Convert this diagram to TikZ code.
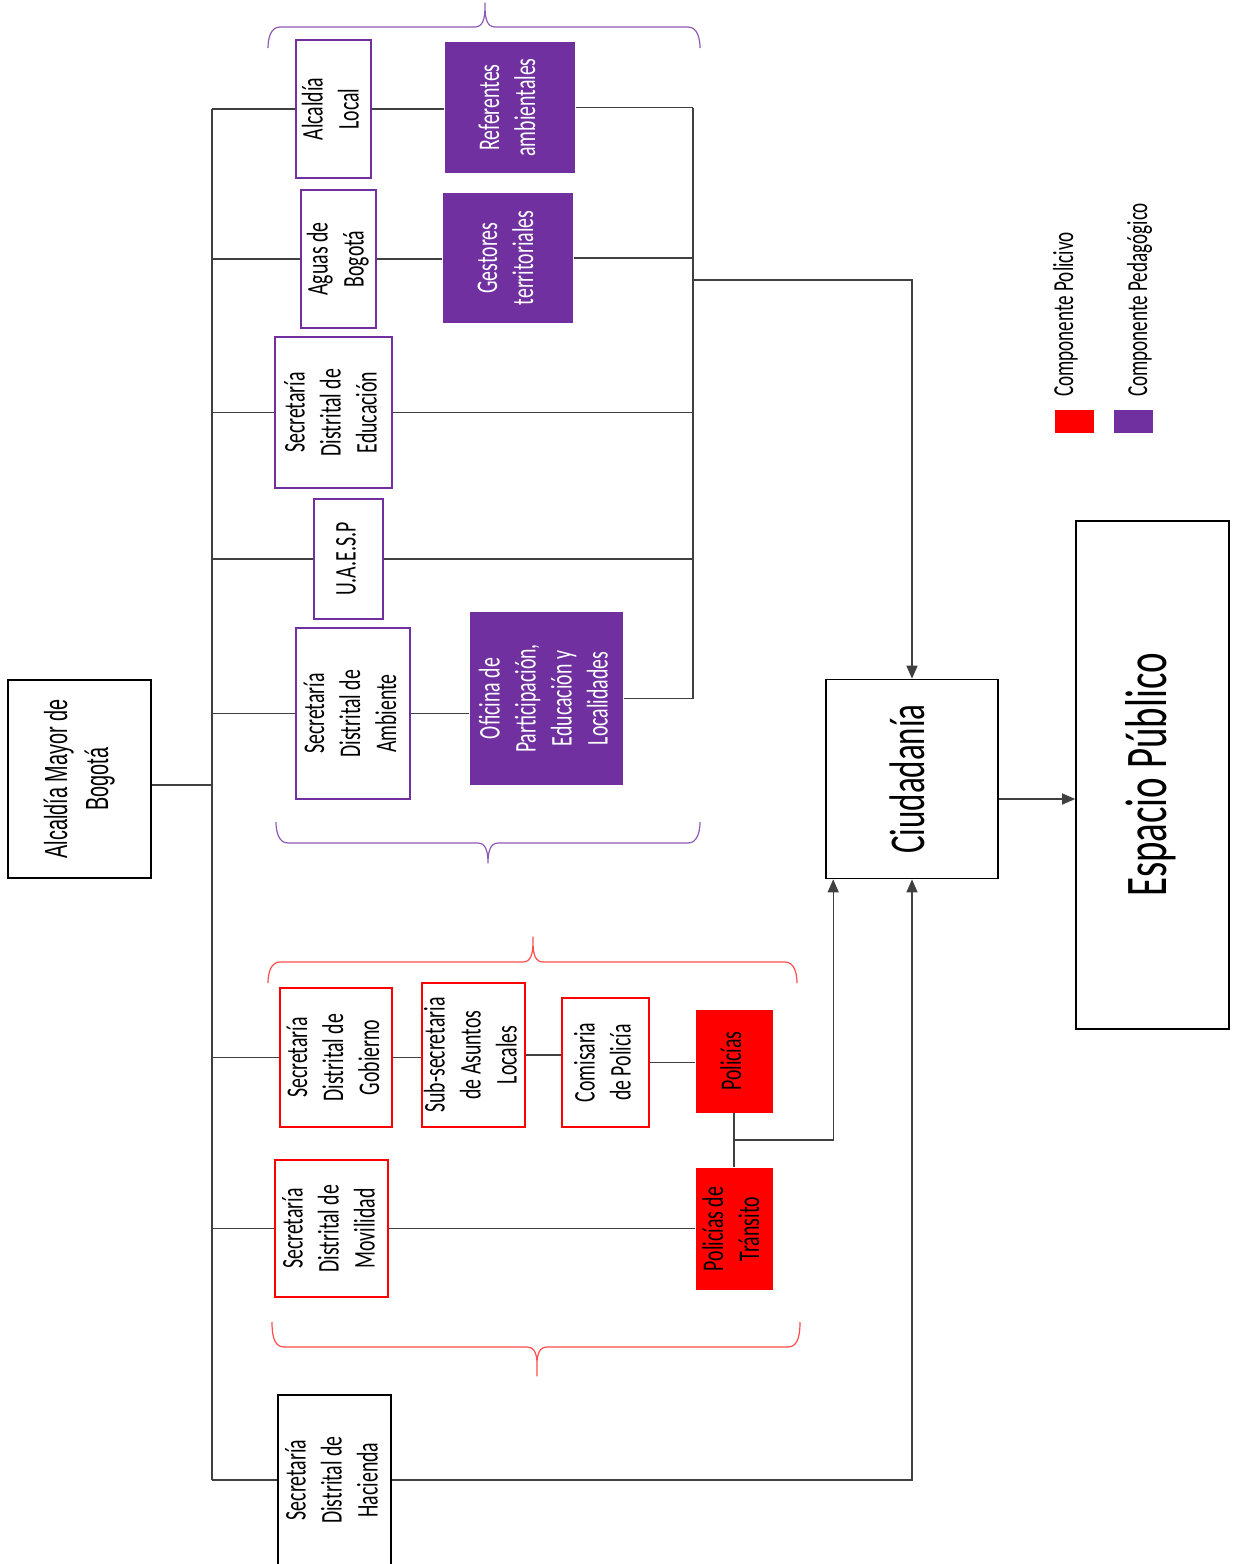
\documentclass[tikz,border=0pt]{standalone}
\usepackage{fontspec}
\usepackage{graphicx}
\usetikzlibrary{arrows.meta}

\newfontfamily\condfont[FakeStretch=0.66]{Carlito}
\newfontfamily\arialcond[FakeStretch=0.62]{Liberation Sans}
\definecolor{morado}{HTML}{7030A0}
\definecolor{rojo}{HTML}{FF0000}
\newcommand{\vt}[1]{\rotatebox{90}{\begin{tabular}{@{}c@{}}#1\end{tabular}}}

\tikzset{
    caja/.style={draw, line width=1.6pt, inner sep=0pt, font=\condfont\fontsize{30}{36}\selectfont},
    cajam/.style={caja, draw=morado},
    cajar/.style={caja, draw=rojo},
    llenam/.style={caja, draw=none, fill=morado, text=white},
    llenar/.style={caja, draw=none, fill=rojo},
    linea/.style={draw=black!75, line width=1.3pt},
    flecha/.style={linea, -{Triangle[length=13pt,width=11pt]}},
    llave/.style={line width=1.2pt, line join=round},
    leyenda/.style={font=\condfont\fontsize{29}{34}\selectfont, rotate=90, anchor=base west, inner sep=0pt}
}

\begin{document}
\begin{tikzpicture}[x=1pt, y=-1pt]
    \useasboundingbox (0,0) rectangle (1232,1564);

    % Cabeza
    \node[caja, minimum width=143pt, minimum height=198pt, font=\arialcond\fontsize{32}{41}\selectfont] (alcmayor) at (79.5,779) {\vt{Alcaldía Mayor de\\Bogotá}};

    % Componente pedagógico
    \node[cajam, minimum width=75pt, minimum height=138pt] (alclocal) at (333.5,109) {\vt{Alcaldía\\Local}};
    \node[llenam, minimum width=130pt, minimum height=131pt] (referentes) at (510,107.5) {\vt{Referentes\\ambientales}};
    \node[cajam, minimum width=75pt, minimum height=138pt] (aguas) at (338.5,259) {\vt{Aguas de\\Bogotá}};
    \node[llenam, minimum width=130pt, minimum height=130pt] (gestores) at (508,258) {\vt{Gestores\\territoriales}};
    \node[cajam, minimum width=117pt, minimum height=151pt] (educacion) at (333.5,412.5) {\vt{Secretaría\\Distrital de\\Educación}};
    \node[cajam, minimum width=69pt, minimum height=120pt] (uaesp) at (348.5,559) {\vt{U.A.E.S.P}};
    \node[cajam, minimum width=114pt, minimum height=171pt] (ambiente) at (353,713.5) {\vt{Secretaría\\Distrital de\\Ambiente}};
    \node[llenam, minimum width=153pt, minimum height=173pt] (oficina) at (546.5,698.5) {\vt{Oficina de\\Participación,\\Educación y\\Localidades}};

    % Componente policivo
    \node[cajar, minimum width=112pt, minimum height=139pt] (gobierno) at (336,1057.5) {\vt{Secretaría\\Distrital de\\Gobierno}};
    \node[cajar, minimum width=103pt, minimum height=144pt, inner xsep=-3pt] (asuntos) at (473.5,1055) {\vt{Sub-secretaria\\de Asuntos\\Locales}};
    \node[cajar, minimum width=87pt, minimum height=129pt] (comisaria) at (605.5,1062.5) {\vt{Comisaria\\de Policía}};
    \node[llenar, minimum width=77pt, minimum height=103pt] (policias) at (734,1061) {\vt{Policías}};
    \node[cajar, minimum width=113pt, minimum height=137pt] (movilidad) at (331.5,1228.5) {\vt{Secretaría\\Distrital de\\Movilidad}};
    \node[llenar, minimum width=77pt, minimum height=122pt] (transito) at (734,1229) {\vt{Policías de\\Tránsito}};

    \node[caja, minimum width=113pt, minimum height=170pt] (hacienda) at (334.5,1480) {\vt{Secretaría\\Distrital de\\Hacienda}};

    % Resultado
    \node[caja, minimum width=172pt, minimum height=199pt, font=\condfont\fontsize{50}{60}\selectfont] (ciudadania) at (912,779) {\vt{Ciudadanía}};
    \node[caja, minimum width=153pt, minimum height=508pt, font=\condfont\fontsize{59}{70}\selectfont] (espacio) at (1152.5,775) {\vt{Espacio Público}};

    % Leyenda
    \node[fill=rojo, minimum width=39pt, minimum height=23pt, inner sep=0pt] (legrojo) at (1074.5,421.5) {};
    \node[fill=morado, minimum width=39pt, minimum height=23pt, inner sep=0pt] (legmorado) at (1133.5,421.5) {};
    \node[leyenda] (txtrojo) at (1073,397) {Componente Policivo};
    \node[leyenda] (txtmorado) at (1147,397) {Componente Pedagógico};

    % Llaves
    \draw[llave, draw=morado!80] (268,48) to[out=90,in=180] (280,27) -- (475,27) to[out=0,in=-90] (485,3)
        to[out=-90,in=180] (495,27) -- (688,27) to[out=0,in=90] (700,48);
    \draw[llave, draw=morado!80] (276,822) to[out=-90,in=180] (288,843) -- (478,843) to[out=0,in=90] (488,863)
        to[out=90,in=180] (498,843) -- (688,843) to[out=0,in=-90] (700,822);
    \draw[llave, draw=rojo!70] (268,983) to[out=90,in=180] (280,962) -- (523,962) to[out=0,in=-90] (533,937)
        to[out=-90,in=180] (543,962) -- (785,962) to[out=0,in=90] (797,983);
    \draw[llave, draw=rojo!70] (272,1322) to[out=-90,in=180] (284,1347) -- (527,1347) to[out=0,in=90] (537,1376)
        to[out=90,in=180] (547,1347) -- (788,1347) to[out=0,in=-90] (800,1322);

    % Tronco
    \coordinate (tronco) at (212,779);
    \coordinate (bus) at (693,400);
    \draw[linea] (alclocal.west -| tronco) -- (hacienda.west -| tronco);
    \draw[linea] ([yshift=-6pt]alcmayor.east) -- ([yshift=-6pt]alcmayor.east -| tronco);
    \foreach \n in {alclocal,aguas,educacion,uaesp,ambiente,gobierno,movilidad,hacienda}
        \draw[linea] (tronco |- \n.west) -- (\n.west);

    % Conexiones moradas
    \draw[linea] (alclocal.east) -- (alclocal.east -| referentes.west);
    \draw[linea] (aguas.east) -- (aguas.east -| gestores.west);
    \draw[linea] (ambiente.east) -- (ambiente.east -| oficina.west);
    \foreach \n in {referentes,gestores,educacion,uaesp,oficina}
        \draw[linea] (\n.east) -- (\n.east -| bus);
    \draw[linea] (referentes.east -| bus) -- (oficina.east -| bus);
    \coordinate (salida) at (693,280);
    \draw[flecha] (salida) -| (ciudadania.north);

    % Conexiones rojas
    \draw[linea] (gobierno.east) -- (gobierno.east -| asuntos.west);
    \draw[linea] (asuntos.east) -- (asuntos.east -| comisaria.west);
    \draw[linea] (comisaria.east) -- (comisaria.east -| policias.west);
    \draw[linea] (movilidad.east) -- (movilidad.east -| transito.west);
    \draw[linea] (policias.south) -- (transito.north);
    \coordinate (union) at (734,1140);
    \draw[flecha] (union) -| ([xshift=8pt]ciudadania.south west);

    \draw[flecha] (hacienda.east) -| (ciudadania.south);
    \draw[flecha] ([yshift=-20pt]ciudadania.east) -- ([yshift=-20pt]ciudadania.east -| espacio.west);
\end{tikzpicture}
\end{document}
